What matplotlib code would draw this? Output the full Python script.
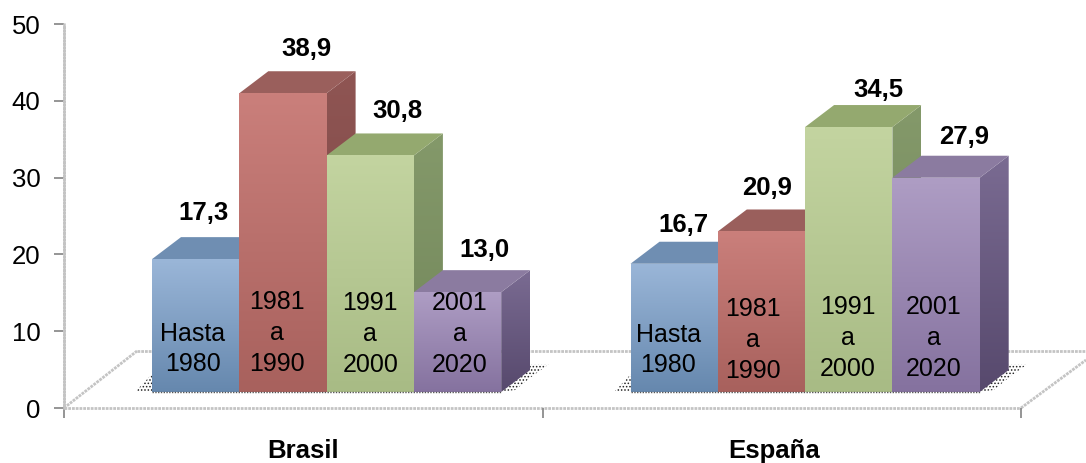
import matplotlib
matplotlib.use('Agg')
import matplotlib.pyplot as plt
import numpy as np
from matplotlib.patches import Polygon

plt.rcParams['font.family'] = ['Liberation Sans', 'DejaVu Sans']
plt.rcParams['hatch.linewidth'] = 0.7

# datos
paises = ['Brasil', 'España']
periodos = ['Hasta\n1980', '1981\na\n1990', '1991\na\n2000', '2001\na\n2020']
brasil = [17.3, 38.9, 30.8, 13.0]
espana = [16.7, 20.9, 34.5, 27.9]
ticks_y = [0, 10, 20, 30, 40, 50]

# colores por periodo: frente (arriba, abajo), lateral (arriba, abajo), tapa
frente = [('#9ab6d8', '#6688ae'), ('#ca7f7b', '#a8615d'), ('#c3d4a0', '#a8bb85'), ('#ae9dc4', '#85729f')]
lateral = [('#6d8cb0', '#5a7798'), ('#8f5553', '#7a4644'), ('#84996a', '#72865a'), ('#7a6b92', '#57496d')]
tapa = ['#6f8eb2', '#9a5f5c', '#94a96f', '#8b7ba0']

W, H = 1086, 463
# el eje va de x=64 a x=1021 y de y=24 a y=408 (pixeles)
AX_L, AX_R, AX_T, AX_B = 64, 1021, 24, 408
PX_X = (AX_R - AX_L) / 2.0    # pixeles por categoria
PX_Y = (AX_B - AX_T) / 50.0   # pixeles por unidad

fig = plt.figure(figsize=(W / 100, H / 100), dpi=100)
ax = fig.add_axes([AX_L / W, 1 - AX_B / H, (AX_R - AX_L) / W, (AX_B - AX_T) / H])

ancho = 87.3 / PX_X
inicio = 88 / PX_X
base = 16 / PX_Y        # altura del frente de las barras sobre el suelo
prof_x = 29 / PX_X
prof_y = 22 / PX_Y
punteado = (0, (1, 0.35))


def gradiente(ax, verts, c1, c2, y0, y1, zorder):
    # relleno vertical recortado al poligono
    a = np.array(matplotlib.colors.to_rgb(c1))
    b = np.array(matplotlib.colors.to_rgb(c2))
    t = np.linspace(0, 1, 64)[:, None]
    img = (a * (1 - t) + b * t)[:, None, :]
    xs = [v[0] for v in verts]
    im = ax.imshow(img, extent=[min(xs), max(xs), y0, y1], origin='upper',
                   aspect='auto', zorder=zorder, interpolation='bilinear')
    p = Polygon(verts, closed=True, transform=ax.transData, fc='none', ec='none')
    ax.add_patch(p)
    im.set_clip_path(p)
    im.set_clip_on(True)


def sombra(ax, verts, zorder=1.5):
    ax.add_patch(Polygon(verts, closed=True, fc='none', ec='#222222', lw=0,
                         hatch='.....', zorder=zorder, clip_on=False))


# suelo
gris = '#c4c4c4'
fondo_y = (AX_B - 351) / PX_Y
izq = 73 / PX_X
ax.plot([0, izq], [0, fondo_y], color=gris, lw=2, ls=punteado, clip_on=False, zorder=1)
ax.plot([izq, 2 + 65 / PX_X], [fondo_y, fondo_y], color=gris, lw=2, ls=punteado, clip_on=False, zorder=1)
ax.plot([2, 2 + 65 / PX_X], [0, 48 / PX_Y], color=gris, lw=2, ls=punteado, clip_on=False, zorder=1)
ax.plot([0, 2], [0, 0], color=gris, lw=2, ls=punteado, clip_on=False, zorder=1)

for g, valores in enumerate([brasil, espana]):
    x0 = g + inicio
    xf = x0 + 4 * ancho

    # sombras sobre el suelo
    sombra(ax, [(x0 - 17 / PX_X, base), (x0, base), (x0, base + 18 / PX_Y)])
    sombra(ax, [(xf, base), (xf + 14 / PX_X, base + 2 / PX_Y), (xf + 30 / PX_X, base + 15 / PX_Y),
                (xf + 48 / PX_X, base + 28 / PX_Y), (xf + 29 / PX_X, base + 28 / PX_Y)])

    for i, v in enumerate(valores):
        a = x0 + i * ancho
        b = a + ancho
        top = base + v
        z = 2 + i * 0.1

        # lateral, tapa y frente, de atras hacia delante
        gradiente(ax, [(b, base), (b + prof_x, base + prof_y), (b + prof_x, top + prof_y), (b, top)],
                  lateral[i][0], lateral[i][1], base, top + prof_y, z)
        ax.add_patch(Polygon([(a, top), (b, top), (b + prof_x, top + prof_y), (a + prof_x, top + prof_y)],
                             closed=True, fc=tapa[i], ec='none', zorder=z + 0.01, clip_on=False))
        gradiente(ax, [(a, base), (b, base), (b, top), (a, top)],
                  frente[i][0], frente[i][1], base, top, z + 0.02)

    # linea punteada al pie de las barras
    ax.plot([x0, xf], [base, base], color='#555555', lw=1, ls=(0, (1, 1)), zorder=3)

# textos de los periodos dentro de las barras
dx_periodo = [[-3, -6, 0, 2], [-6, -9, -1, -2]]
centro_y = [[(AX_B - 349) / PX_Y, (AX_B - 333) / PX_Y, (AX_B - 334) / PX_Y, (AX_B - 334) / PX_Y],
            [(AX_B - 350) / PX_Y, (AX_B - 340) / PX_Y, (AX_B - 338) / PX_Y, (AX_B - 338) / PX_Y]]
# etiquetas de valor sobre las barras
dx_valor = [[8, 23, 27, 27], [9, 6, 30, 28]]
dy_valor = [46, 44, 44, 42], [39, 43, 37, 41]

for g, valores in enumerate([brasil, espana]):
    x0 = g + inicio
    for i, v in enumerate(valores):
        cx = x0 + (i + 0.5) * ancho
        ax.text(cx + dx_periodo[g][i] / PX_X, centro_y[g][i], periodos[i], ha='center', va='center',
                fontsize=18, color='black', zorder=5, linespacing=1.36)
        ax.text(cx + dx_valor[g][i] / PX_X, base + v + dy_valor[g][i] / PX_Y,
                f'{v:.1f}'.replace('.', ','), ha='center', va='center',
                fontsize=18.5, fontweight='bold', color='black', zorder=5)

# nombres de los paises
ax.text(0.5, -43 / PX_Y, paises[0], ha='center', va='center', fontsize=18.5, fontweight='bold')
ax.text(1.485, -43 / PX_Y, paises[1], ha='center', va='center', fontsize=18.5, fontweight='bold')

ax.set_xlim(0, 2)
ax.set_ylim(0, 50)
ax.set_yticks(ticks_y)
ax.set_xticks([0, 1, 2])
ax.set_xticklabels([])
ax.tick_params(axis='y', labelsize=18.5, length=7, width=1.3, color='#8c8c8c', pad=10)
ax.tick_params(axis='x', length=7.5, width=1.3, color='#8c8c8c')
ax.patch.set_visible(False)
for s in ['top', 'right', 'bottom']:
    ax.spines[s].set_visible(False)
ax.spines['left'].set_color('#c4c4c4')
ax.spines['left'].set_linewidth(1.8)
ax.spines['left'].set_linestyle(punteado)

fig.savefig('out.png', dpi=100)
plt.close()
